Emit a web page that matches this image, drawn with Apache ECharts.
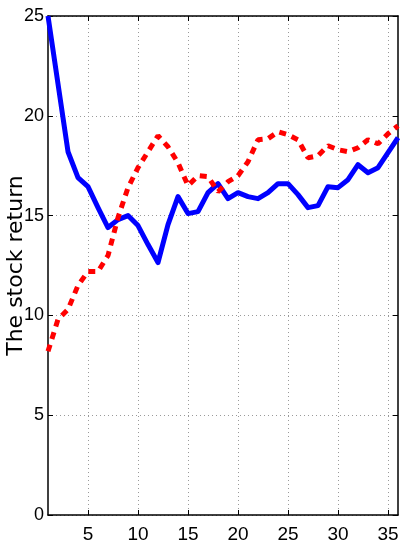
<!DOCTYPE html>
<html>
<head>
<meta charset="utf-8">
<script src="https://cdn.jsdelivr.net/npm/echarts@6/dist/echarts.min.js"></script>
<style>html,body{margin:0;padding:0;background:#fff;}#chart{width:400px;height:547px;}</style>
</head>
<body>
<div id="chart"></div>
<script>
var periods = [1,2,3,4,5,6,7,8,9,10,11,12,13,14,15,16,17,18,19,20,21,22,23,24,25,26,27,28,29,30,31,32,33,34,35,36];
var blueSeries = [25, 21.6, 18.2, 16.9, 16.45, 15.4, 14.4, 14.8, 15.0, 14.5, 13.55, 12.65, 14.55, 15.95, 15.1, 15.2, 16.15, 16.6, 15.85, 16.15, 15.95, 15.85, 16.15, 16.6, 16.6, 16.05, 15.4, 15.5, 16.45, 16.4, 16.8, 17.55, 17.15, 17.4, 18.15, 18.9];
var redSeries = [8.2, 9.8, 10.3, 11.5, 12.2, 12.2, 13.0, 14.9, 16.4, 17.4, 18.2, 19.0, 18.45, 17.65, 16.5, 17.0, 16.95, 16.2, 16.7, 17.0, 17.7, 18.8, 18.85, 19.2, 19.05, 18.8, 17.9, 18.0, 18.5, 18.3, 18.2, 18.4, 18.8, 18.6, 19.1, 19.5];
var xTicks = [5,10,15,20,25,30,35];
var yAxisName = 'The stock return';

function pairs(xs, ys){ return xs.map(function(x,i){ return [x, ys[i]]; }); }

var labelFont = "'Liberation Sans Narrow', 'Liberation Sans', Arial, sans-serif";
var axisLine = {show:true, onZero:false, lineStyle:{color:'#000', width:1.5}};
var tick = {show:true, inside:true, length:5, lineStyle:{color:'#000', width:1}};
var grid = {show:true, lineStyle:{color:'#9a9a9a', width:1, type:[1,3]}};

var chart = echarts.init(document.getElementById('chart'), null, {renderer:'canvas'});
chart.setOption({
  animation:false,
  backgroundColor:'#fff',
  grid:{left:48, right:2, top:16, bottom:32, containLabel:false, outerBoundsMode:'none'},
  xAxis:[
    {type:'value', min:periods[0], max:periods[periods.length-1], position:'bottom',
     axisLine:axisLine,
     axisTick:Object.assign({customValues:xTicks}, tick),
     axisLabel:{customValues:xTicks, color:'#000', fontSize:19, fontFamily:labelFont, margin:10},
     splitLine:grid},
    {type:'value', min:periods[0], max:periods[periods.length-1], position:'top',
     axisLine:axisLine,
     axisTick:Object.assign({customValues:xTicks}, tick),
     axisLabel:{show:false}, splitLine:{show:false}}
  ],
  yAxis:[
    {type:'value', min:0, max:25, interval:5, position:'left',
     name:yAxisName, nameLocation:'middle', nameRotate:90, nameGap:21, nameMoveOverlap:false,
     nameTextStyle:{color:'#000', fontSize:22, fontFamily:"'DejaVu Sans', sans-serif"},
     axisLine:axisLine, axisTick:tick,
     axisLabel:{color:'#000', fontSize:18, fontFamily:labelFont, margin:4},
     splitLine:grid},
    {type:'value', min:0, max:25, interval:5, position:'right',
     axisLine:axisLine, axisTick:tick, axisLabel:{show:false}, splitLine:{show:false}}
  ],
  series:[
    {type:'line', data:pairs(periods, blueSeries), showSymbol:false, symbol:'none',
     lineStyle:{color:'#0000ff', width:5, join:'round'}, itemStyle:{color:'#0000ff'}},
    {type:'line', data:pairs(periods, redSeries), showSymbol:false, symbol:'none',
     lineStyle:{color:'#ff0000', width:5, type:[7,6], cap:'butt'}, itemStyle:{color:'#ff0000'}}
  ]
});
</script>
</body>
</html>
